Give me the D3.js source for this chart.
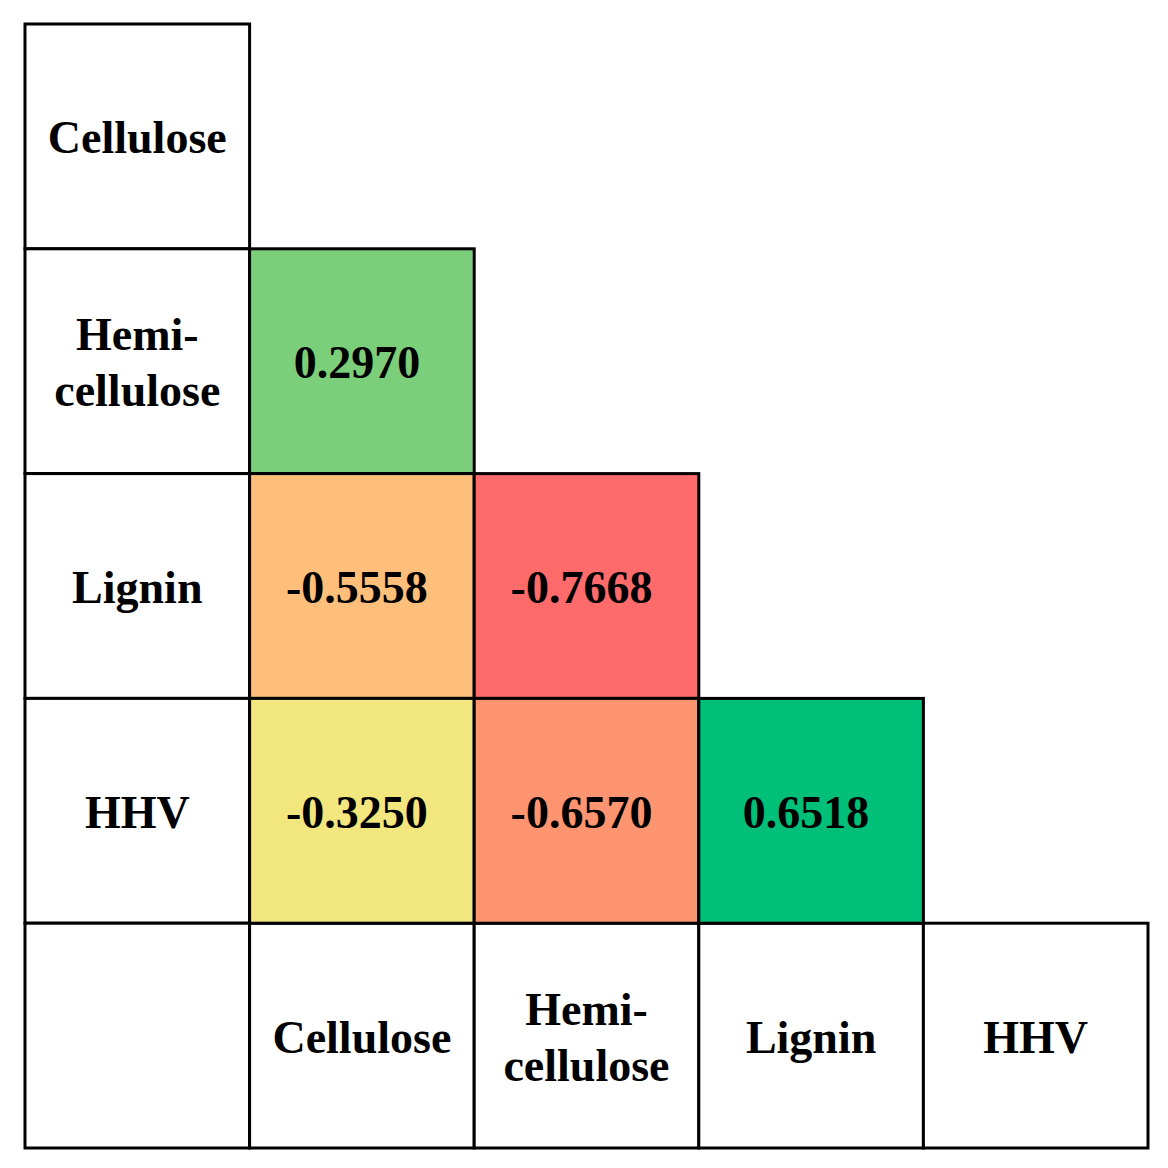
<!DOCTYPE html><html><head><script src="https://cdn.jsdelivr.net/npm/d3@7"></script>
<style>body{margin:0;background:#fff}</style></head><body><svg id="c" width="1168" height="1168"></svg>
<script>
const vars=["Cellulose","Hemicellulose","Lignin","HHV"];
const labels=[["Cellulose"],["Hemi-","cellulose"],["Lignin"],["HHV"]];
const cells=[
 {r:1,c:0,v:"0.2970",col:"#7ccf7a"},
 {r:2,c:0,v:"-0.5558",col:"#fdbf79"},
 {r:2,c:1,v:"-0.7668",col:"#ff6b6b"},
 {r:3,c:0,v:"-0.3250",col:"#f2e77f"},
 {r:3,c:1,v:"-0.6570",col:"#fe9470"},
 {r:3,c:2,v:"0.6518",col:"#00bf78"}];
const svg=d3.select("#c");
const x=d3.scaleBand().domain(d3.range(5)).range([25,1148]);
const y=d3.scaleBand().domain(d3.range(5)).range([24,1148]);
const font="'Liberation Serif','Times New Roman',serif";
function box(cx,cy,fill){svg.append("rect").attr("x",x(cx)).attr("y",y(cy)).attr("width",x.bandwidth()).attr("height",y.bandwidth()).attr("fill",fill).attr("stroke","#000").attr("stroke-width",3);}
function txt(cx,cy,lines,dx){const t=svg.append("text").attr("font-family",font).attr("font-weight","bold").attr("font-size",46).attr("text-anchor","middle");
 const n=lines.length;lines.forEach((l,i)=>t.append("tspan").attr("x",x(cx)+x.bandwidth()/2+(dx||0)).attr("y",y(cy)+y.bandwidth()/2+17+(i-(n-1)/2)*56).text(l));}
labels.forEach((l,i)=>{box(0,i,"#fff");txt(0,i,l);});
box(0,4,"#fff");
labels.forEach((l,i)=>{box(i+1,4,"#fff");txt(i+1,4,l);});
cells.forEach(d=>{box(d.c+1,d.r,d.col);txt(d.c+1,d.r,[d.v],-5);});
</script></body></html>
